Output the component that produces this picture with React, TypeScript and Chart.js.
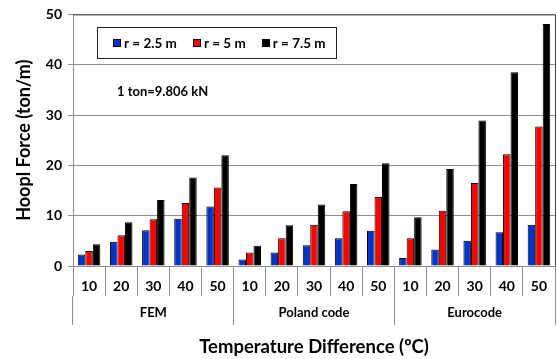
import React, { useEffect, useRef } from "react";
import { Chart, registerables } from "chart.js";

Chart.register(...registerables);

// Method groups and the temperature differences inside each group
const groups = ["FEM", "Poland code", "Eurocode"];
const temps = ["10", "20", "30", "40", "50"];
const categories = groups.flatMap(() => temps);

// Hoop force (ton/m) per radius, FEM / Poland code / Eurocode
const r25 = [2.3, 4.8, 7.1, 9.4, 11.8, 1.3, 2.7, 4.1, 5.5, 7.0, 1.6, 3.3, 5.0, 6.7, 8.2];
const r5 = [3.0, 6.1, 9.3, 12.5, 15.6, 2.7, 5.5, 8.2, 10.9, 13.7, 5.5, 11.0, 16.5, 22.2, 27.7];
const r75 = [4.3, 8.7, 13.1, 17.6, 22.0, 4.0, 8.1, 12.2, 16.3, 20.4, 9.7, 19.3, 28.9, 38.5, 48.1];

const seriesLabels = ["r = 2.5 m", "r = 5 m", "r = 7.5 m"];
const seriesColors = ["#0033cc", "#ff0000", "#000000"];
const yTicks = [0, 10, 20, 30, 40, 50];
const note = "1 ton=9.806 kN";

const FONT = "Lato, 'Liberation Sans', sans-serif";
const GRID = "#8f8f8f";
const FRAME = "#444444";

// Draws the plot frame, the boxed legend and the unit note inside the plot area
const overlay = {
  id: "overlay",
  afterDatasetsDraw(chart: any) {
    const { ctx, chartArea: a } = chart;
    ctx.save();
    ctx.strokeStyle = FRAME;
    ctx.lineWidth = 1;
    ctx.beginPath();
    ctx.moveTo(a.left, a.top + 0.5);
    ctx.lineTo(a.right + 0.5, a.top + 0.5);
    ctx.lineTo(a.right + 0.5, a.bottom);
    ctx.stroke();
    ctx.restore();
  },
  afterDraw(chart: any) {
    const { ctx, chartArea: a } = chart;
    ctx.save();
    // legend
    ctx.font = `bold 13.5px ${FONT}`;
    ctx.textBaseline = "middle";
    ctx.textAlign = "left";
    const ds = chart.data.datasets;
    const sq = 8;
    const gapText = 3;
    const gapItem = 16;
    const padL = 16;
    const padR = 10;
    const widths = ds.map((d: any) => ctx.measureText(d.label).width);
    let boxW = padL + padR + gapItem * (ds.length - 1);
    widths.forEach((w: number) => (boxW += sq + gapText + w));
    const bx = a.left + 24;
    const by = a.top + 13;
    const bh = 31;
    ctx.strokeStyle = "#222";
    ctx.lineWidth = 1;
    ctx.strokeRect(Math.round(bx) + 0.5, Math.round(by) + 0.5, Math.round(boxW), bh);
    const cy = by + bh / 2 + 0.5;
    let x = bx + padL;
    ds.forEach((d: any, i: number) => {
      ctx.fillStyle = d.backgroundColor;
      ctx.fillRect(Math.round(x), Math.round(cy - sq / 2), sq, sq);
      ctx.strokeStyle = "#000";
      ctx.strokeRect(Math.round(x) + 0.5, Math.round(cy - sq / 2) + 0.5, sq - 1, sq - 1);
      ctx.fillStyle = "#000";
      ctx.fillText(d.label, x + sq + gapText, cy);
      x += sq + gapText + widths[i] + gapItem;
    });
    // unit note
    ctx.font = `bold 13px ${FONT}`;
    ctx.fillText(note, a.left + 44, a.top + 77);
    ctx.restore();
  },
};

export default function App() {
  const ref = useRef<HTMLCanvasElement | null>(null);

  useEffect(() => {
    if (!ref.current) return;
    const tickFont = { family: FONT, size: 14, weight: "bold" as const };
    const chart = new Chart(ref.current, {
      type: "bar",
      data: {
        labels: categories,
        datasets: [r25, r5, r75].map((values, i) => ({
          label: seriesLabels[i],
          data: values,
          xAxisID: "x",
          yAxisID: "y",
          backgroundColor: seriesColors[i],
          borderColor: "#000",
          borderWidth: 1,
          barPercentage: 1,
          categoryPercentage: 0.7,
        })),
      },
      options: {
        responsive: false,
        animation: false,
        layout: { padding: { top: 7, right: 2, left: 0, bottom: 0 } },
        plugins: { legend: { display: false }, tooltip: { enabled: false } },
        scales: {
          x: {
            type: "category",
            position: "bottom",
            weight: 1,
            offset: true,
            grid: { offset: true, drawOnChartArea: false, tickLength: 30, color: GRID },
            border: { display: true, color: GRID },
            ticks: { font: tickFont, color: "#000", padding: -18, maxRotation: 0, autoSkip: false },
            afterFit: (s: any) => {
              s.height = 30;
            },
          },
          group: {
            type: "category",
            position: "bottom",
            weight: 2,
            labels: groups,
            offset: true,
            grid: { offset: true, drawOnChartArea: false, tickLength: 29, color: GRID },
            border: { display: false },
            ticks: {
              font: { family: FONT, size: 13, weight: "bold" as const },
              color: "#000",
              padding: -20,
              maxRotation: 0,
              autoSkip: false,
            },
            title: {
              display: true,
              text: "Temperature Difference (ºC)",
              color: "#000",
              font: { family: FONT, size: 18.5, weight: "bold" as const },
              padding: { top: 0, bottom: 1 },
            },
            afterFit: (s: any) => {
              s.height = 63;
            },
          },
          y: {
            type: "linear",
            min: yTicks[0],
            max: yTicks[yTicks.length - 1],
            afterBuildTicks: (s: any) => {
              s.ticks = yTicks.map((v) => ({ value: v }));
            },
            grid: { color: GRID, tickLength: 5 },
            border: { display: true, color: GRID },
            ticks: { font: tickFont, color: "#000", padding: 6 },
            title: {
              display: true,
              text: "Hoopl Force (ton/m)",
              color: "#000",
              font: { family: FONT, size: 18, weight: "bold" as const },
              padding: { top: 13, bottom: 0 },
            },
            afterFit: (s: any) => {
              s.width = 73;
            },
          },
        },
      },
      plugins: [overlay],
    });
    return () => chart.destroy();
  }, []);

  return (
    <div style={{ position: "fixed", left: 0, top: 0, width: 557, height: 359, background: "#fff" }}>
      <canvas ref={ref} width={557} height={359} />
    </div>
  );
}
